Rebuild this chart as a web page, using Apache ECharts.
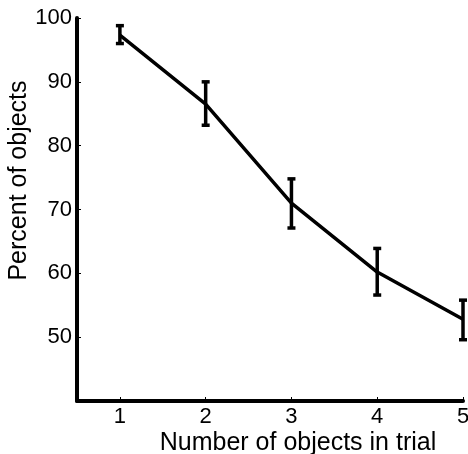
<!DOCTYPE html>
<html>
<head>
<meta charset="utf-8">
<script src="https://cdn.jsdelivr.net/npm/echarts@6/dist/echarts.min.js"></script>
<style>html,body{margin:0;padding:0;background:#fff}#c{width:468px;height:454px}</style>
</head>
<body>
<div id="c"></div>
<script>
var objects = [1, 2, 3, 4, 5];
var percent = [97.3, 86.5, 71.0, 60.2, 52.8];
var errLow = [96.0, 83.2, 67.1, 56.6, 49.6];
var errHigh = [98.8, 90.0, 74.8, 63.9, 55.8];
var yTicks = [50, 60, 70, 80, 90, 100];

var chart = echarts.init(document.getElementById('c'));
var FONT = 'Liberation Sans, Arial, sans-serif';
chart.setOption({
  animation: false,
  grid: { left: 77, right: 5, top: 18, bottom: 53, containLabel: false, outerBoundsMode: 'none' },
  xAxis: {
    type: 'value', min: 0.5, max: 5, interval: 1,
    name: 'Number of objects in trial', nameLocation: 'middle', nameGap: 30, nameMoveOverlap: false,
    nameTextStyle: { fontFamily: FONT, fontSize: 25, color: '#000', padding: [0, 0, 0, 56] },
    axisLine: { onZero: false, lineStyle: { color: '#000', width: 4 } },
    axisTick: { show: true, inside: true, length: 4, lineStyle: { color: '#000', width: 1 },
      customValues: objects },
    axisLabel: { fontFamily: FONT, fontSize: 22, color: '#000', margin: 5, customValues: objects },
    splitLine: { show: false }
  },
  yAxis: {
    type: 'value', min: 40, max: 100, interval: 10,
    name: 'Percent of objects', nameLocation: 'middle', nameGap: 45, nameRotate: 90, nameMoveOverlap: false,
    nameTextStyle: { fontFamily: FONT, fontSize: 25, color: '#000', padding: [0, 0, 0, 58] },
    axisLine: { onZero: false, lineStyle: { color: '#000', width: 4 } },
    axisTick: { show: true, inside: true, length: 4, lineStyle: { color: '#000', width: 1 },
      customValues: yTicks },
    axisLabel: { fontFamily: FONT, fontSize: 22, color: '#000', margin: 5, customValues: yTicks },
    splitLine: { show: false }
  },
  series: [
    {
      type: 'line',
      data: objects.map(function (x, i) { return [x, percent[i]]; }),
      symbol: 'none',
      lineStyle: { color: '#000', width: 3.5 },
      z: 2
    },
    {
      type: 'custom',
      data: objects.map(function (x, i) { return [x, errLow[i], errHigh[i]]; }),
      renderItem: function (params, api) {
        var lo = api.coord([api.value(0), api.value(1)]);
        var hi = api.coord([api.value(0), api.value(2)]);
        var w = 4;
        var st = { stroke: '#000', lineWidth: 3.5 };
        return {
          type: 'group',
          children: [
            { type: 'line', shape: { x1: lo[0], y1: lo[1], x2: hi[0], y2: hi[1] }, style: st },
            { type: 'line', shape: { x1: lo[0] - w, y1: lo[1], x2: lo[0] + w, y2: lo[1] }, style: st },
            { type: 'line', shape: { x1: hi[0] - w, y1: hi[1], x2: hi[0] + w, y2: hi[1] }, style: st }
          ]
        };
      },
      z: 3
    }
  ]
});
</script>
</body>
</html>
